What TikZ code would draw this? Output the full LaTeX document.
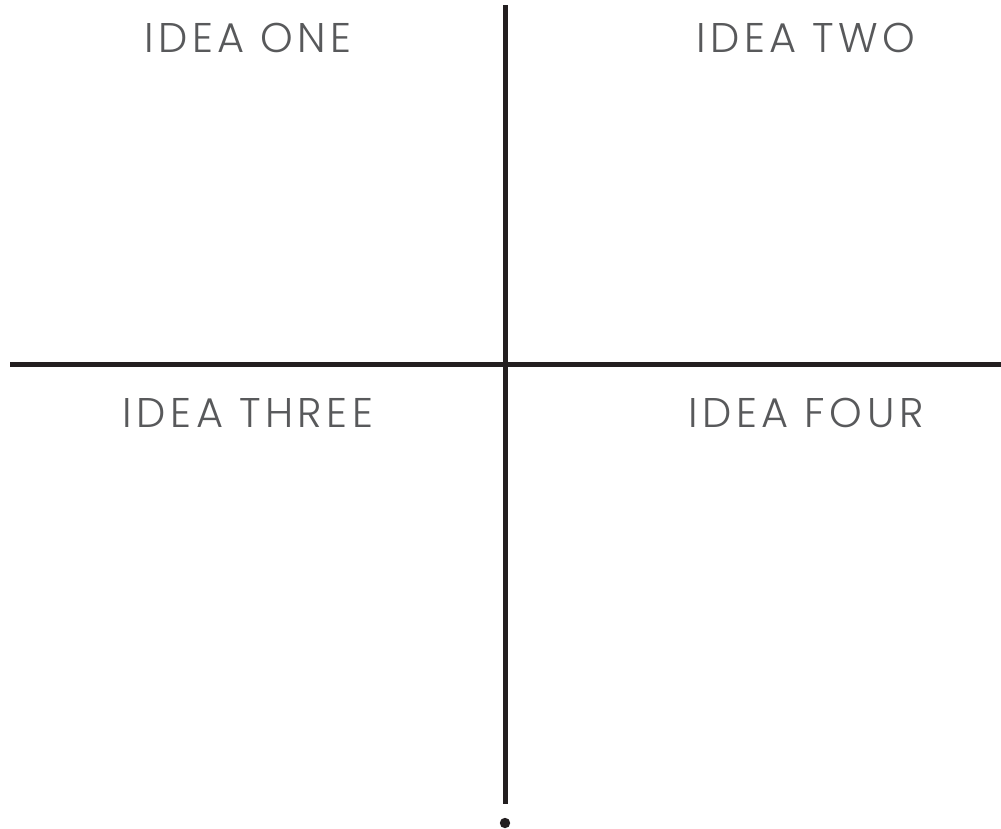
\documentclass[tikz,border=0pt]{standalone}
\usepackage{fontspec}
\setmainfont{Poppins}[UprightFont={* Light}]
\usetikzlibrary{positioning}
\definecolor{ink}{RGB}{35,31,32}
\definecolor{muted}{RGB}{88,89,91}
\tikzset{
    axis/.style={draw=ink, line width=3.56pt},
    idea/.style={font=\fontsize{29.5}{32}\selectfont\addfontfeatures{LetterSpace=11}, text=muted, anchor=base, inner sep=0pt},
    enddot/.style={circle, fill=ink, inner sep=0pt, minimum size=0.26cm}
}
\begin{document}
\begin{tikzpicture}[x=0.025cm, y=-0.025cm]
\useasboundingbox (0,0) rectangle (1001,829);

% Axes
\coordinate (vtop) at (505.5,5);
\coordinate (vbot) at (505.5,804);
\coordinate (hleft) at (10,364.5);
\coordinate (hright) at (1001,364.5);
\draw[axis] (vtop) -- (vbot);
\draw[axis] (hleft) -- (hright);

% Dot under the axis
\node[enddot] (tail) at (505,823) {};

% Quadrant titles
\node[idea] (one) at (248,52) {IDEA ONE};
\node[idea] (two) at (806,52) {IDEA TWO};
\node[idea] (three) at (248,427) {IDEA THREE};
\node[idea] (four) at (806,427) {IDEA FOUR};

\end{tikzpicture}
\end{document}
